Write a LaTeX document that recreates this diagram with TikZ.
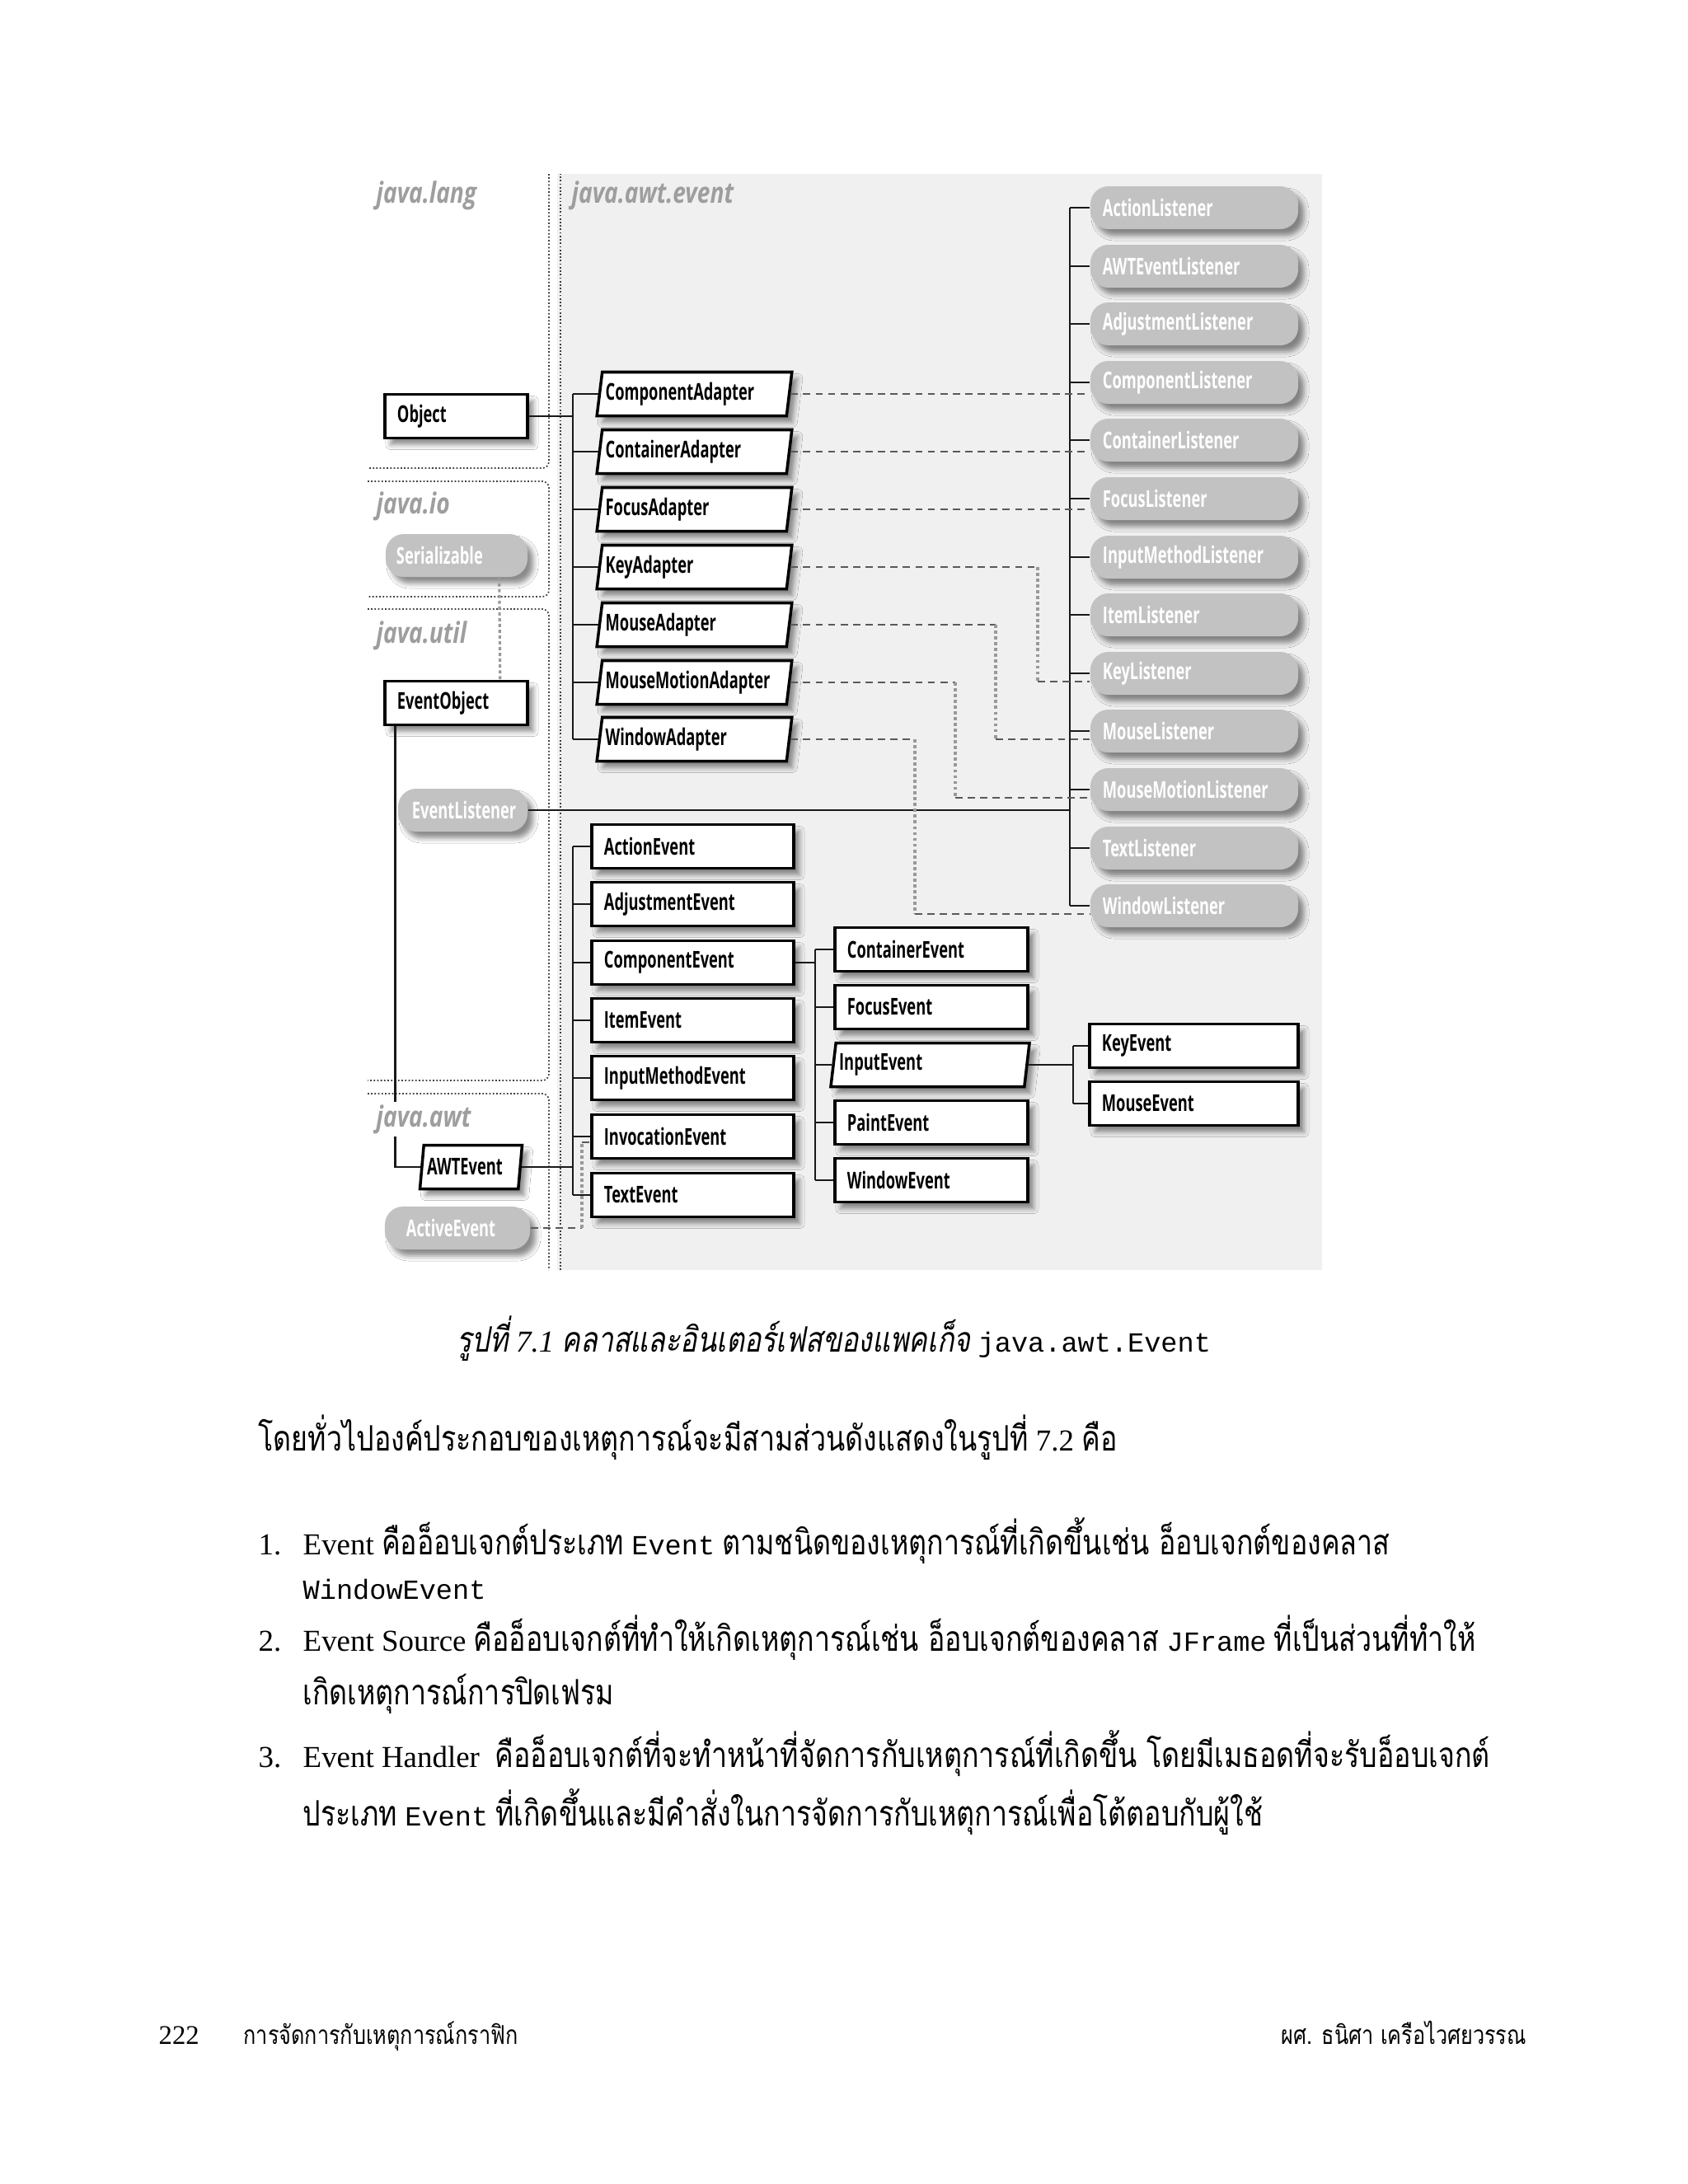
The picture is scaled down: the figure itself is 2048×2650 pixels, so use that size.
\documentclass[tikz,border=0pt]{standalone}
\usepackage{fontspec}
\setmainfont{Liberation Serif}
\setmonofont{Liberation Mono}[Scale=0.91]
\newfontfamily\thaifont[Script=Thai,Scale=1.15,FakeStretch=0.80]{Loma}
\newfontfamily\thaiitfont[Script=Thai,Scale=1.15,FakeStretch=0.80,FakeSlant=0.18]{Loma}
\newfontfamily\classfont[FakeStretch=0.65]{Open Sans}
\newfontfamily\pkgfont[FakeStretch=0.8]{Open Sans}
\usetikzlibrary{shapes.geometric,shadows.blur}

\newcommand\thtxt[1]{{\thaifont #1}}
\newcommand\thit[1]{{\thaiitfont #1}}

\begin{document}
\begin{tikzpicture}[x=0.01cm,y=-0.01cm,
  boxshadow/.style={blur shadow={shadow xshift=0.07cm,shadow yshift=-0.08cm,shadow blur radius=0.06cm,shadow opacity=45}},
  clsbase/.style={draw,line width=1pt,fill=white,minimum height=0.53cm,inner ysep=0pt,align=left,
    font={\classfont\bfseries\fontsize{8pt}{9pt}\selectfont},boxshadow},
  cls/.style={clsbase,inner xsep=0.15cm,text width=#1},
  abscls/.style={clsbase,trapezium,trapezium left angle=77,trapezium right angle=103,
    trapezium stretches body,inner xsep=0.04cm,text width=#1},
  iface/.style={fill=black!24,text=white,rounded corners=0.22cm,minimum height=0.52cm,inner ysep=0pt,align=left,
    font={\classfont\bfseries\fontsize{8pt}{9pt}\selectfont},boxshadow,text width=#1},
  pkglabel/.style={anchor=base west,inner sep=0pt,text=black!38,font={\pkgfont\bfseries\itshape\fontsize{10pt}{12pt}\selectfont}},
  pkgline/.style={line width=0.5pt,black!75,dash pattern=on 0.5pt off 0.7pt,rounded corners=0.08cm},
  link/.style={line width=0.8pt,black!90},
  dep/.style={line width=0.45pt,black!65,dash pattern=on 2.5pt off 1.8pt},
  depv/.style={line width=0.9pt,black!40,dash pattern=on 1.1pt off 0.9pt},
  body/.style={anchor=base west,inner sep=0pt,font={\fontsize{10.5pt}{12.6pt}\selectfont}}]

  \useasboundingbox (0,0) rectangle (2048,2650);
  \fill[white] (0,0) rectangle (2048,2650);

  % package areas
  \fill[black!6] (676,211) rectangle (1604,1541);
  \draw[pkgline] (666,211) -- (666,568) -- (446,568);
  \draw[pkgline] (446,584) -- (666,584) -- (666,724) -- (446,724);
  \draw[pkgline] (446,739) -- (666,739) -- (666,1311) -- (446,1311);
  \draw[pkgline] (446,1327) -- (666,1327) -- (666,1541);
  \draw[pkgline] (680,1541) -- (680,211);

  % left column
  \node[cls=1.43cm] (obj) at (553.5,505) {Object};
  \node[iface=1.46cm,inner xsep=0.13cm] (ser) at (554,674) {Serializable};
  \node[cls=1.43cm] (evobj) at (553.5,853) {EventObject};
  \node[iface=1.23cm,inner xsep=0.17cm] (evlis) at (561.5,983) {EventListener};
  \node[abscls=1.065cm] (awtev) at (571.5,1416) {AWTEvent};
  \node[iface=1.24cm,inner xsep=0.26cm] (actev) at (555,1490) {ActiveEvent};

  % adapters
  \node[abscls=2.155cm] (compad) at (842.5,478) {ComponentAdapter};
  \node[abscls=2.155cm] (contad) at (842.5,548) {ContainerAdapter};
  \node[abscls=2.155cm] (focad) at (842.5,618) {FocusAdapter};
  \node[abscls=2.155cm] (keyad) at (842.5,688) {KeyAdapter};
  \node[abscls=2.155cm] (mousead) at (842.5,758) {MouseAdapter};
  \node[abscls=2.155cm] (motad) at (842.5,828) {MouseMotionAdapter};
  \node[abscls=2.155cm] (winad) at (842.5,897) {WindowAdapter};

  % events
  \node[cls=2.15cm] (actionev) at (840.5,1027) {ActionEvent};
  \node[cls=2.15cm] (adjev) at (840.5,1097) {AdjustmentEvent};
  \node[cls=2.15cm] (compev) at (840.5,1168) {ComponentEvent};
  \node[cls=2.15cm] (itemev) at (840.5,1238) {ItemEvent};
  \node[cls=2.15cm] (imev) at (840.5,1308) {InputMethodEvent};
  \node[cls=2.15cm] (invev) at (840.5,1379) {InvocationEvent};
  \node[cls=2.15cm] (textev) at (840.5,1450) {TextEvent};

  \node[cls=2.04cm] (contev) at (1130,1152) {ContainerEvent};
  \node[cls=2.04cm] (focev) at (1130,1222) {FocusEvent};
  \node[abscls=2.205cm] (inev) at (1128.5,1292) {InputEvent};
  \node[cls=2.04cm] (paintev) at (1130,1362) {PaintEvent};
  \node[cls=2.04cm] (winev) at (1130,1432) {WindowEvent};

  \node[cls=2.23cm] (keyev) at (1448.5,1269) {KeyEvent};
  \node[cls=2.23cm] (mouseev) at (1448.5,1339) {MouseEvent};

  % listeners
  \node[iface=2.22cm,inner xsep=0.15cm] (actl) at (1449,252) {ActionListener};
  \node[iface=2.22cm,inner xsep=0.15cm] (awtl) at (1449,323) {AWTEventListener};
  \node[iface=2.22cm,inner xsep=0.15cm] (adjl) at (1449,393) {AdjustmentListener};
  \node[iface=2.22cm,inner xsep=0.15cm] (compl) at (1449,464) {ComponentListener};
  \node[iface=2.22cm,inner xsep=0.15cm] (contl) at (1449,534) {ContainerListener};
  \node[iface=2.22cm,inner xsep=0.15cm] (focl) at (1449,605) {FocusListener};
  \node[iface=2.22cm,inner xsep=0.15cm] (iml) at (1449,676) {InputMethodListener};
  \node[iface=2.22cm,inner xsep=0.15cm] (iteml) at (1449,746) {ItemListener};
  \node[iface=2.22cm,inner xsep=0.15cm] (keyl) at (1449,817) {KeyListener};
  \node[iface=2.22cm,inner xsep=0.15cm] (mousel) at (1449,887) {MouseListener};
  \node[iface=2.22cm,inner xsep=0.15cm] (motl) at (1449,958) {MouseMotionListener};
  \node[iface=2.22cm,inner xsep=0.15cm] (textl) at (1449,1029) {TextListener};
  \node[iface=2.22cm,inner xsep=0.15cm] (winl) at (1449,1099) {WindowListener};

  % class tree
  \coordinate (adx) at (695,0);
  \draw[link] (obj.east) -- (obj.east -| adx);
  \draw[link] (adx |- compad.west) -- (adx |- winad.west);
  \draw[link] (adx |- compad.west) -- (compad.west);
  \draw[link] (adx |- contad.west) -- (contad.west);
  \draw[link] (adx |- focad.west) -- (focad.west);
  \draw[link] (adx |- keyad.west) -- (keyad.west);
  \draw[link] (adx |- mousead.west) -- (mousead.west);
  \draw[link] (adx |- motad.west) -- (motad.west);
  \draw[link] (adx |- winad.west) -- (winad.west);

  \draw[link] ([xshift=0.14cm]evobj.south west) |- (awtev.west);
  \draw[depv] ([xshift=-0.35cm]ser.south east) -- ([xshift=-0.35cm]evobj.north east);

  \draw[link] (awtev.east) -- (awtev.east -| adx);
  \draw[link] (adx |- actionev.west) -- (adx |- textev.west);
  \draw[link] (adx |- actionev.west) -- (actionev.west);
  \draw[link] (adx |- adjev.west) -- (adjev.west);
  \draw[link] (adx |- compev.west) -- (compev.west);
  \draw[link] (adx |- itemev.west) -- (itemev.west);
  \draw[link] (adx |- imev.west) -- (imev.west);
  \draw[link] (adx |- invev.west) -- (invev.west);
  \draw[link] (adx |- textev.west) -- (textev.west);

  \coordinate (subx) at (989,0);
  \draw[link] (compev.east) -- (compev.east -| subx);
  \draw[link] (subx |- contev.west) -- (subx |- winev.west);
  \draw[link] (subx |- contev.west) -- (contev.west);
  \draw[link] (subx |- focev.west) -- (focev.west);
  \draw[link] (subx |- inev.west) -- (inev.west);
  \draw[link] (subx |- paintev.west) -- (paintev.west);
  \draw[link] (subx |- winev.west) -- (winev.west);

  \coordinate (inx) at (1302,0);
  \draw[link] (inev.east) -- (inev.east -| inx);
  \draw[link] (inx |- keyev.west) -- (inx |- mouseev.west);
  \draw[link] (inx |- keyev.west) -- (keyev.west);
  \draw[link] (inx |- mouseev.west) -- (mouseev.west);

  % listener tree
  \coordinate (lisx) at (1298,0);
  \draw[link] (evlis.east) -- (evlis.east -| lisx);
  \draw[link] (lisx |- actl.west) -- (lisx |- winl.west);
  \draw[link] (lisx |- actl.west) -- (actl.west);
  \draw[link] (lisx |- awtl.west) -- (awtl.west);
  \draw[link] (lisx |- adjl.west) -- (adjl.west);
  \draw[link] (lisx |- compl.west) -- (compl.west);
  \draw[link] (lisx |- contl.west) -- (contl.west);
  \draw[link] (lisx |- focl.west) -- (focl.west);
  \draw[link] (lisx |- iml.west) -- (iml.west);
  \draw[link] (lisx |- iteml.west) -- (iteml.west);
  \draw[link] (lisx |- keyl.west) -- (keyl.west);
  \draw[link] (lisx |- mousel.west) -- (mousel.west);
  \draw[link] (lisx |- motl.west) -- (motl.west);
  \draw[link] (lisx |- textl.west) -- (textl.west);
  \draw[link] (lisx |- winl.west) -- (winl.west);

  % adapters implement listeners
  \draw[dep] (compad.east) -- (compad.east -| compl.west);
  \draw[dep] (contad.east) -- (contad.east -| contl.west);
  \draw[dep] (focad.east) -- (focad.east -| focl.west);

  \coordinate (keyx) at (1259,0);
  \coordinate (keyin) at ([yshift=-0.1cm]keyl.west);
  \draw[dep] (keyad.east) -- (keyad.east -| keyx);
  \draw[depv] (keyad.east -| keyx) -- (keyx |- keyin);
  \draw[dep] (keyx |- keyin) -- (keyin);

  \coordinate (mousex) at (1208,0);
  \coordinate (mousein) at ([yshift=-0.1cm]mousel.west);
  \draw[dep] (mousead.east) -- (mousead.east -| mousex);
  \draw[depv] (mousead.east -| mousex) -- (mousex |- mousein);
  \draw[dep] (mousex |- mousein) -- (mousein);

  \coordinate (motx) at (1159,0);
  \coordinate (motin) at ([yshift=-0.1cm]motl.west);
  \draw[dep] (motad.east) -- (motad.east -| motx);
  \draw[depv] (motad.east -| motx) -- (motx |- motin);
  \draw[dep] (motx |- motin) -- (motin);

  \coordinate (winx) at (1110,0);
  \coordinate (winin) at ([yshift=-0.1cm]winl.west);
  \draw[dep] (winad.east) -- (winad.east -| winx);
  \draw[depv] (winad.east -| winx) -- (winx |- winin);
  \draw[dep] (winx |- winin) -- (winin);

  \coordinate (actx) at (706,0);
  \coordinate (invin) at ([yshift=-0.07cm]invev.west);
  \draw[dep] (actev.east) -- (actev.east -| actx);
  \draw[depv] (actev.east -| actx) -- (actx |- invin);
  \draw[dep] (actx |- invin) -- (invin);

  % package names
  \node[pkglabel] (langlbl) at (456,246) {java.lang};
  \node[pkglabel] (eventlbl) at (693,246) {java.awt.event};
  \node[pkglabel] (iolbl) at (456,623) {java.io};
  \node[pkglabel] (utillbl) at (456,780) {java.util};
  \node[pkglabel,fill=white,inner ysep=1pt] (awtlbl) at (456,1367) {java.awt};

  % caption and text
  \node[body] (caption) at (554,1640) {\thit{รูปที่} \textit{7.1} \thit{คลาสและอินเตอร์เฟสของแพคเก็จ} \texttt{java.awt.Event}};
  \node[body] (intro) at (313,1760) {\thtxt{โดยทั่วไปองค์ประกอบของเหตุการณ์จะมีสามส่วนดังแสดงในรูปที่} 7.2 \thtxt{คือ}};
  \node[body] (num1) at (313,1886) {1.};
  \node[body] (item1) at (367,1886) {Event \thtxt{คืออ็อบเจกต์ประเภท} \texttt{Event} \thtxt{ตามชนิดของเหตุการณ์ที่เกิดขึ้นเช่น อ็อบเจกต์ของคลาส}};
  \node[body] (item1b) at (367,1940) {\texttt{WindowEvent}};
  \node[body] (num2) at (313,2003) {2.};
  \node[body] (item2) at (367,2003) {Event Source \thtxt{คืออ็อบเจกต์ที่ทำให้เกิดเหตุการณ์เช่น อ็อบเจกต์ของคลาส} \texttt{JFrame} \thtxt{ที่เป็นส่วนที่ทำให้}};
  \node[body] (item2b) at (367,2068) {\thtxt{เกิดเหตุการณ์การปิดเฟรม}};
  \node[body] (num3) at (313,2144) {3.};
  \node[body] (item3) at (367,2144) {Event Handler\ \ \thtxt{คืออ็อบเจกต์ที่จะทำหน้าที่จัดการกับเหตุการณ์ที่เกิดขึ้น โดยมีเมธอดที่จะรับอ็อบเจกต์}};
  \node[body] (item3b) at (367,2215) {\thtxt{ประเภท} \texttt{Event} \thtxt{ที่เกิดขึ้นและมีคำสั่งในการจัดการกับเหตุการณ์เพื่อโต้ตอบกับผู้ใช้}};

  % footer
  \node[body,font={\fontsize{9.3pt}{11pt}\selectfont}] (pagenum) at (192,2480) {222};
  \node[body,font={\fontsize{7.8pt}{9pt}\selectfont}] (chapter) at (295,2480) {\thtxt{การจัดการกับเหตุการณ์กราฟิก}};
  \node[body,font={\fontsize{7.8pt}{9pt}\selectfont}] (author) at (1554,2480) {\thtxt{ผศ. ธนิศา เครือไวศยวรรณ}};
\end{tikzpicture}
\end{document}
